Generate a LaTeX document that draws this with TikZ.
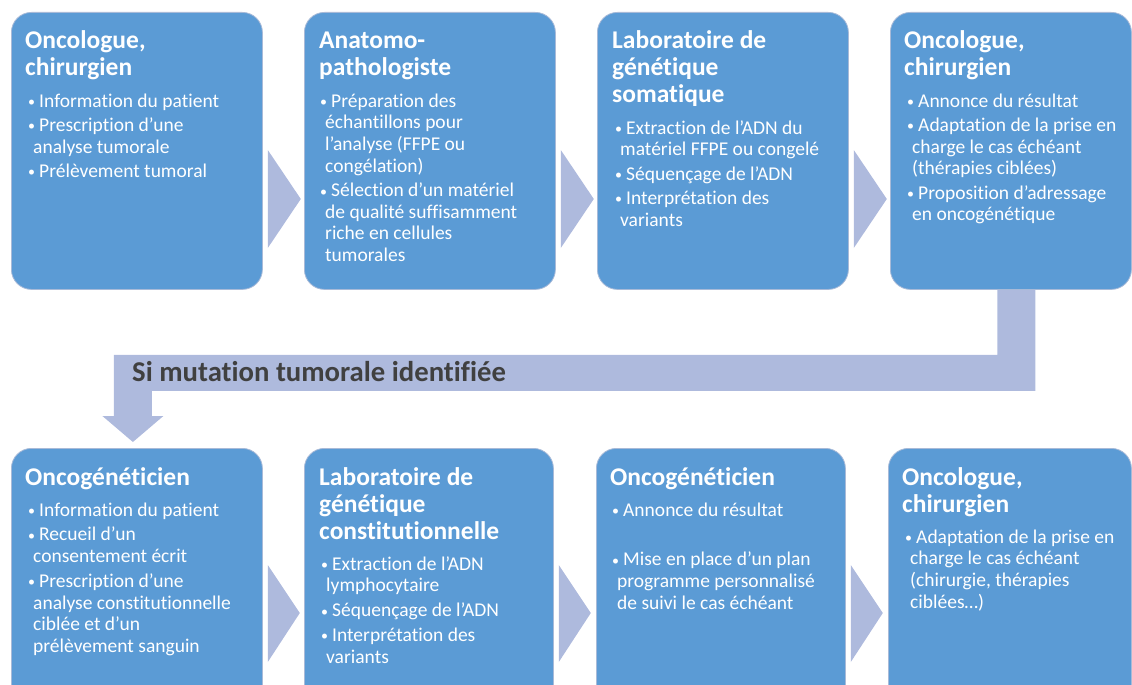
\documentclass[tikz,border=0pt]{standalone}
\usepackage{fontspec}
\setmainfont{Carlito}[Ligatures=NoCommon]
\usetikzlibrary{calc}
\definecolor{boxblue}{RGB}{91,155,213}
\definecolor{boxedge}{RGB}{168,186,216}
\definecolor{arrowfill}{RGB}{174,186,221}
\definecolor{darktext}{RGB}{64,64,64}
\newcommand{\itm}{\makebox[11pt][l]{\raisebox{0.5pt}{\fontsize{14}{14}\selectfont\textbullet}}}
\newcommand{\cnt}{\hspace*{5pt}}
\tikzset{
  stepbox/.style={fill=boxblue, draw=boxedge, line width=0.8pt, rounded corners=20pt,
    anchor=north west, inner sep=0pt, minimum width=251pt},
  toprow/.style={minimum height=277pt},
  botrow/.style={minimum height=270pt},
  chev/.style={fill=arrowfill, draw=none},
  ttl/.style={anchor=north west, inner sep=0pt, align=left, text=white,
    font=\fontsize{25.5}{27}\selectfont\bfseries},
  bul/.style={anchor=north west, inner sep=0pt, align=left, text=white,
    font=\fontsize{19.5}{21.7}\selectfont},
  lbl/.style={anchor=base west, inner sep=0pt, text=darktext,
    font=\fontsize{28.7}{30}\selectfont\bfseries},
}
\newcommand{\tstrut}{\rule{0pt}{20pt}}
\newcommand{\bstrut}{\rule{0pt}{16pt}}
\begin{document}
\begin{tikzpicture}[x=1pt,y=-1pt]
\useasboundingbox (0,0) rectangle (1132,685);
\clip (0,0) rectangle (1132,685);
% top row boxes
\node[stepbox,toprow] (t1) at (11,12) {};
\node[stepbox,toprow] (t2) at (304,12) {};
\node[stepbox,toprow] (t3) at (597,12) {};
\node[stepbox,toprow,minimum width=241pt] (t4) at (890,12) {};
% bottom row boxes
\node[stepbox,botrow] (b1) at (11,448) {};
\node[stepbox,botrow,minimum width=249pt] (b2) at (304,448) {};
\node[stepbox,botrow,minimum width=249pt] (b3) at (596,448) {};
\node[stepbox,botrow,minimum width=243pt] (b4) at (888,448) {};
% chevrons top row
\foreach \a/\b in {t1/t2,t2/t3,t3/t4}{
  \fill[chev] ([xshift=5pt,yshift=-138pt]\a.north east) -- ([xshift=38pt,yshift=-187pt]\a.north east)
    -- ([xshift=5pt,yshift=-236pt]\a.north east) -- cycle;
}
% chevrons bottom row
\foreach \a/\b in {b1/b2,b2/b3,b3/b4}{
  \fill[chev] ([xshift=5pt,yshift=-117pt]\a.north east) -- ([xshift=37pt,yshift=-165pt]\a.north east)
    -- ([xshift=5pt,yshift=-214pt]\a.north east) -- cycle;
}
% bent arrow from t4 to b1
\coordinate (bs) at ([xshift=5.5pt]t4.south);
\coordinate (be) at ([xshift=-4pt,yshift=6pt]b1.north);
\fill[chev] let \p1=(bs), \p2=(be) in
  (\x1-19pt,\y1) -- (\x1+19pt,\y1) -- (\x1+19pt,\y1-101pt) -- (\x2+19pt,\y1-101pt)
  -- (\x2+19pt,\y2+26pt) -- (\x2+30.5pt,\y2+26pt) -- (\x2,\y2) -- (\x2-30.5pt,\y2+26pt)
  -- (\x2-19pt,\y2+26pt) -- (\x2-19pt,\y1-65pt) -- (\x1-19pt,\y1-65pt) -- cycle;
\node[lbl] (cond) at (132,381) {Si mutation tumorale identifiée};
% top row texts
\node[ttl] (t1t) at (25,28) {\tstrut Oncologue,\\chirurgien};
\node[bul] (t1b) at (28,91) {\bstrut\itm Information du patient\\[2.5pt]
  \itm Prescription d’une\\ \cnt analyse tumorale\\[2.5pt]
  \itm Prélèvement tumoral};
\node[ttl] (t2t) at (319,28) {\tstrut Anatomo-\\pathologiste};
\node[bul] (t2b) at (320,91) {\bstrut\itm Préparation des\\ \cnt échantillons pour\\ \cnt l’analyse (FFPE ou\\ \cnt congélation)\\[2.5pt]
  \itm Sélection d’un matériel\\ \cnt de qualité suffisamment\\ \cnt riche en cellules\\ \cnt tumorales};
\node[ttl] (t3t) at (612,28) {\tstrut Laboratoire de\\génétique\\somatique};
\node[bul] (t3b) at (615,118) {\bstrut\itm Extraction de l’ADN du\\ \cnt matériel FFPE ou congelé\\[2.5pt]
  \itm Séquençage de l’ADN\\[2.5pt]
  \itm Interprétation des\\ \cnt variants};
\node[ttl] (t4t) at (904,28) {\tstrut Oncologue,\\chirurgien};
\node[bul] (t4b) at (907,91) {\bstrut\itm Annonce du résultat\\[2.5pt]
  \itm Adaptation de la prise en\\ \cnt charge le cas échéant\\ \cnt (thérapies ciblées)\\[2.5pt]
  \itm Proposition d’adressage\\ \cnt en oncogénétique};
% bottom row texts
\node[ttl] (b1t) at (25,465) {\tstrut Oncogénéticien};
\node[bul] (b1b) at (28,500) {\bstrut\itm Information du patient\\[3pt]
  \itm Recueil d’un\\ \cnt consentement écrit\\[3pt]
  \itm Prescription d’une\\ \cnt analyse constitutionnelle\\ \cnt ciblée et d’un\\ \cnt prélèvement sanguin};
\node[ttl] (b2t) at (319,465) {\tstrut Laboratoire de\\génétique\\constitutionnelle};
\node[bul] (b2b) at (321,554) {\bstrut\itm Extraction de l’ADN\\ \cnt lymphocytaire\\[3pt]
  \itm Séquençage de l’ADN\\[3pt]
  \itm Interprétation des\\ \cnt variants};
\node[ttl] (b3t) at (610,465) {\tstrut Oncogénéticien};
\node[bul] (b3b) at (612,500) {\bstrut\itm Annonce du résultat\\[3pt]
  \mbox{}\\[3pt]
  \itm Mise en place d’un plan\\ \cnt programme personnalisé\\ \cnt de suivi le cas échéant};
\node[ttl] (b4t) at (902,465) {\tstrut Oncologue,\\chirurgien};
\node[bul] (b4b) at (905,527) {\bstrut\itm Adaptation de la prise en\\ \cnt charge le cas échéant\\ \cnt (chirurgie, thérapies\\ \cnt ciblées…)};
\end{tikzpicture}
\end{document}
